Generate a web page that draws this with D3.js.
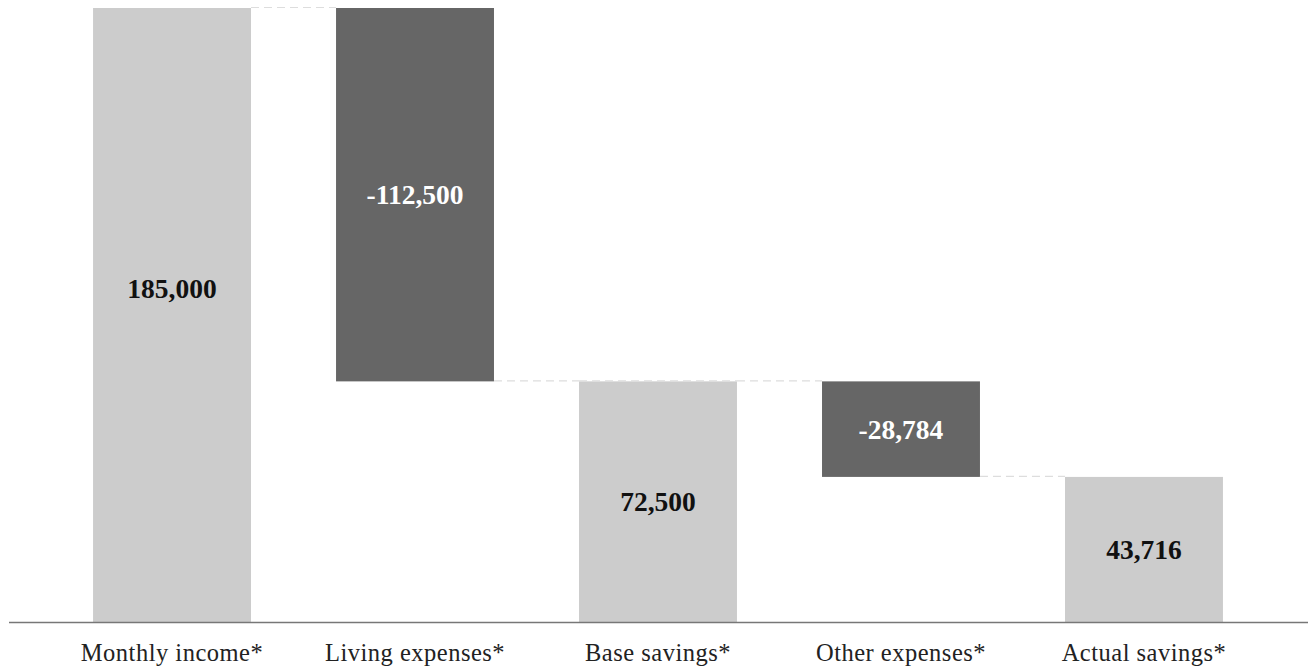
<!DOCTYPE html>
<html>
<head>
<meta charset="utf-8">
<script src="https://cdn.jsdelivr.net/npm/d3@7"></script>
<style>
  html, body { margin: 0; padding: 0; background: #fff; }
  svg { display: block; }
</style>
</head>
<body>
<svg id="chart" width="1312" height="668"></svg>
<script>
const categories = ["Monthly income*", "Living expenses*", "Base savings*", "Other expenses*", "Actual savings*"];
const values = [185000, -112500, 72500, -28784, 43716];
const isTotal = [true, false, true, false, true];

const W = 1312, H = 668;
const svg = d3.select("#chart");

// compute waterfall start/end
let running = 0;
const bars = categories.map((c, i) => {
  let start, end;
  if (isTotal[i]) { start = 0; end = values[i]; running = values[i]; }
  else { start = running; end = running + values[i]; running = end; }
  return { cat: c, value: values[i], start, end, total: isTotal[i], i };
});

const x = d3.scaleBand().domain(categories).range([8, 1308]).paddingInner(0.35).paddingOuter(0.35);
const y = d3.scaleLinear().domain([0, 185000]).range([622, 8]);
const bw = x.bandwidth();
const fmt = v => d3.format(",")(v).replace("\u2212", "-");

// bars
svg.append("g").selectAll("rect").data(bars).join("rect")
  .attr("x", d => x(d.cat))
  .attr("width", bw)
  .attr("y", d => y(Math.max(d.start, d.end)))
  .attr("height", d => Math.abs(y(d.start) - y(d.end)))
  .attr("fill", d => d.total ? "#cccccc" : "#666666");

// connectors
const conn = [];
for (let i = 0; i < bars.length - 1; i++) {
  conn.push({ x1: x(bars[i].cat) + bw, x2: x(bars[i + 1].cat), v: bars[i].end });
  if (i > 0 && bars[i].total) conn.push({ x1: x(bars[i].cat), x2: x(bars[i].cat) + bw, v: bars[i].end });
}
svg.append("g").selectAll("line").data(conn).join("line")
  .attr("x1", d => d.x1).attr("x2", d => d.x2)
  .attr("y1", d => y(d.v) - 0.5).attr("y2", d => y(d.v) - 0.5)
  .attr("stroke", "#dddddd").attr("stroke-width", 1.2)
  .attr("stroke-dasharray", "8,5");

// value labels
svg.append("g").selectAll("text").data(bars).join("text")
  .attr("x", d => x(d.cat) + bw / 2)
  .attr("y", d => {
    const mid = (y(d.start) + y(d.end)) / 2;
    return (d.i === 0 ? mid - 27 : mid);
  })
  .attr("dy", "0.35em")
  .attr("text-anchor", "middle")
  .attr("font-family", "'Liberation Serif', 'Times New Roman', serif")
  .attr("font-weight", "bold")
  .attr("font-size", 27.5)
  .attr("fill", d => d.total ? "#111111" : "#ffffff")
  .text(d => fmt(d.value));

// x axis
const axis = svg.append("g").attr("transform", `translate(0,${y(0)})`)
  .call(d3.axisBottom(x).tickSize(0).tickPadding(22));
axis.select(".domain").attr("d", "M9,0.5H1308").attr("stroke", "#777777").attr("stroke-width", 1.5);
axis.selectAll(".tick text")
  .attr("font-family", "'Liberation Serif', 'Times New Roman', serif")
  .attr("font-size", 24.5)
  .attr("letter-spacing", "0.5px")
  .attr("fill", "#222222");
</script>
</body>
</html>
